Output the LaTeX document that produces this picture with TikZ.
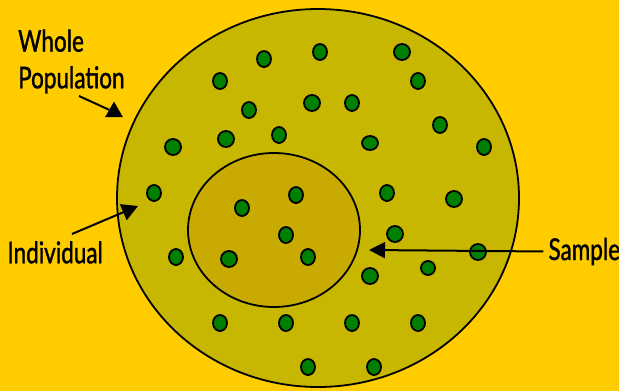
\documentclass[tikz,border=0pt]{standalone}
\usepackage{fontspec}
\newfontfamily\labelfont[FakeStretch=0.75, FakeBold=1.2]{Lato}
\usetikzlibrary{shapes.geometric,arrows.meta}
\definecolor{bgyellow}{RGB}{255,204,0}
\definecolor{popfill}{RGB}{200,183,0}
\definecolor{samplefill}{RGB}{200,170,0}
\definecolor{dotgreen}{RGB}{0,128,0}

\begin{document}
\begin{tikzpicture}[x=1pt, y=-1pt]
    % Styles
    \tikzstyle{popset} = [draw, ellipse, fill=popfill, line width=1.8pt, minimum width=402pt, minimum height=378pt, inner sep=0]
    \tikzstyle{sampleset} = [draw, ellipse, fill=samplefill, line width=1.8pt, minimum width=172pt, minimum height=154pt, inner sep=0]
    \tikzstyle{member} = [draw, ellipse, fill=dotgreen, line width=1.8pt, minimum width=14pt, minimum height=16pt, inner sep=0]
    \tikzstyle{memberround} = [member, minimum width=16pt, minimum height=16pt]
    \tikzstyle{labeltext} = [inner sep=0, font=\labelfont\fontsize{30}{36.6}\selectfont, align=left]
    \tikzstyle{pointer} = [line width=2pt]

    % Background
    \useasboundingbox (0,0) rectangle (619,391);
    \fill[bgyellow] (0,0) rectangle (619,391);

    % Sets
    \node[popset] (population) at (318,198) {};
    \node[sampleset] (sample) at (274,230) {};

    % Individuals
    \node[member] (d1) at (264,59) {};
    \node[member] (d2) at (320,52) {};
    \node[memberround] (d3) at (402,52) {};
    \node[member] (d4) at (220,81) {};
    \node[member] (d5) at (418,81) {};
    \node[member] (d6) at (249,110) {};
    \node[memberround] (d7) at (312,103) {};
    \node[member] (d8) at (352,103) {};
    \node[member] (d9) at (440,125) {};
    \node[member] (d10) at (279,135) {};
    \node[memberround] (d11) at (226,139) {};
    \node[memberround] (d12) at (173,147) {};
    \node[member, minimum width=16pt, minimum height=14pt] (d13) at (370,143) {};
    \node[member] (d14) at (484,147) {};
    \node[member] (d15) at (154,193) {};
    \node[member] (d16) at (387,193) {};
    \node[memberround] (d17) at (454,199) {};
    \node[member] (d18) at (296,195) {};
    \node[member] (d19) at (242,208) {};
    \node[member] (d20) at (286,235) {};
    \node[memberround] (d21) at (229,259) {};
    \node[member] (d22) at (308,257) {};
    \node[member] (d23) at (176,257) {};
    \node[memberround] (d24) at (395,234) {};
    \node[memberround] (d25) at (478,252) {};
    \node[memberround, minimum size=14pt] (d26) at (428,268) {};
    \node[memberround] (d27) at (370,276) {};
    \node[member] (d28) at (220,323) {};
    \node[member] (d29) at (286,323) {};
    \node[member] (d30) at (352,323) {};
    \node[member] (d31) at (418,323) {};
    \node[member] (d32) at (308,367) {};
    \node[member] (d33) at (374,367) {};

    % Labels
    \node[labeltext, anchor=base west] (whole) at (18,88.3) {Whole\\Population};
    \node[labeltext, anchor=base west] (indiv) at (7.3,263.3) {Individual};
    \node[labeltext, anchor=base west] (samplename) at (548.3,260) {Sample};

    % Pointers
    \coordinate (wstart) at (79,96);
    \node[regular polygon, regular polygon sides=3, minimum size=20.8pt, inner sep=0, fill=black] (wtri) at (114,112) {};
    \coordinate (istart) at (72,234);
    \coordinate (itip) at (138,206);
    \coordinate (stip) at (369,250);
    \draw[pointer] (wstart) -- (wtri);
    \draw[pointer, -{Triangle[length=16pt, width=17pt]}] (istart) -- (itip);
    \draw[pointer, -{Triangle[length=16pt, width=16pt]}, shorten <=5pt] (samplename.west) -- (stip);
\end{tikzpicture}
\end{document}
